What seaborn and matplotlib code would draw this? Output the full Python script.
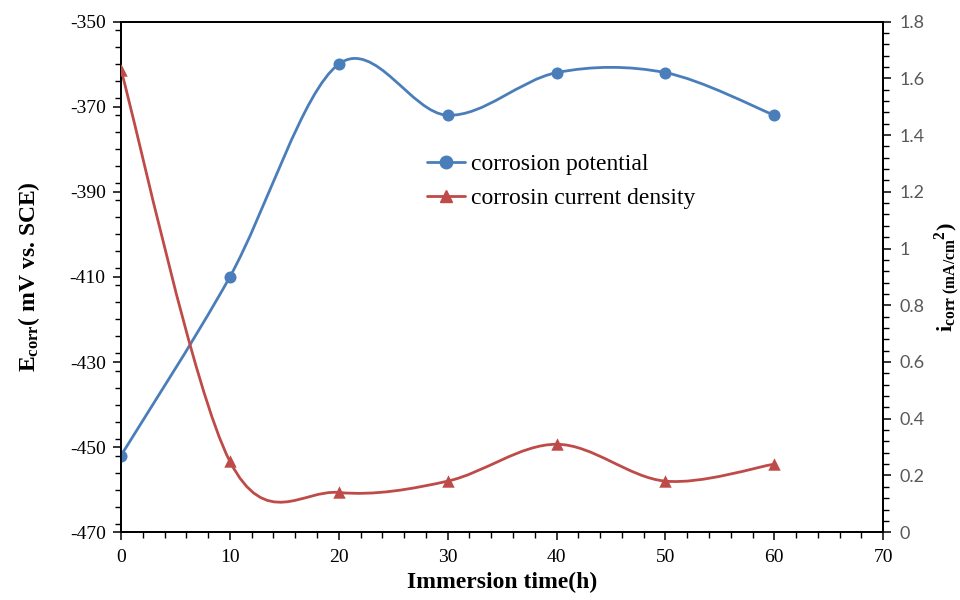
import numpy as np
import matplotlib
matplotlib.use("Agg")
import matplotlib.pyplot as plt
import seaborn as sns
from matplotlib.path import Path
from matplotlib.patches import PathPatch
from matplotlib.lines import Line2D
from matplotlib.ticker import MultipleLocator, FixedLocator, FuncFormatter

# ---- data ----
time_h = [0, 10, 20, 30, 40, 50, 60]
ecorr_mv = [-452, -410, -360, -372, -362, -362, -372]
icorr_ma = [1.63, 0.25, 0.14, 0.18, 0.31, 0.18, 0.24]
left_ticks = [-470, -450, -430, -410, -390, -370, -350]
series_labels = ["corrosion potential", "corrosin current density"]
x_label = "Immersion time(h)"
left_label = r"$\mathbf{E_{corr}}$( mV vs. SCE)"
right_label = r"$\mathbf{i}_{\mathbf{corr\ (mA/cm}}\mathbf{{}^{2})}$"

BLUE = "#4a7ebb"
RED = "#be4b48"

sns.set_theme(style="ticks")
plt.rcParams["font.family"] = ["Liberation Serif", "DejaVu Serif"]
plt.rcParams["axes.unicode_minus"] = False
plt.rcParams["text.color"] = "black"
plt.rcParams["axes.labelcolor"] = "black"
plt.rcParams["mathtext.fontset"] = "custom"
plt.rcParams["mathtext.rm"] = "Liberation Serif"
plt.rcParams["mathtext.it"] = "Liberation Serif:italic"
plt.rcParams["mathtext.bf"] = "Liberation Serif:bold"


def smooth_path(x, y):
    """Excel-like smoothed line (Catmull-Rom as cubic Bezier) through the points."""
    pts = np.column_stack([x, y]).astype(float)
    n = len(pts)
    verts = [pts[0]]
    codes = [Path.MOVETO]
    for i in range(n - 1):
        p0 = pts[i - 1] if i > 0 else pts[i]
        p1 = pts[i]
        p2 = pts[i + 1]
        p3 = pts[i + 2] if i + 2 < n else pts[i + 1]
        c1 = p1 + (p2 - p0) / 6.0
        c2 = p2 - (p3 - p1) / 6.0
        verts += [c1, c2, p2]
        codes += [Path.CURVE4] * 3
    return Path(verts, codes)


fig = plt.figure(figsize=(9.6, 6.0), dpi=100)
ax = fig.add_axes([0.126, 0.113, 0.794, 0.851])
ax2 = ax.twinx()

# left axis series
ax.add_patch(PathPatch(smooth_path(time_h, ecorr_mv), fill=False,
                       edgecolor=BLUE, lw=2.0, zorder=2))
sns.scatterplot(x=time_h, y=ecorr_mv, ax=ax, color=BLUE, marker="o", s=75,
                edgecolor=BLUE, linewidth=0, zorder=3, legend=False)

# right axis series
ax2.add_patch(PathPatch(smooth_path(time_h, icorr_ma), fill=False,
                        edgecolor=RED, lw=2.0, zorder=2))
sns.scatterplot(x=time_h, y=icorr_ma, ax=ax2, color=RED, marker="^", s=80,
                edgecolor=RED, linewidth=0, zorder=3, legend=False)

ax.set_xlim(0, 70)
ax.set_ylim(-470, -350)
ax2.set_ylim(0, 1.8)

ax.xaxis.set_major_locator(MultipleLocator(10))
ax.xaxis.set_minor_locator(MultipleLocator(2))
ax.yaxis.set_major_locator(FixedLocator(left_ticks))
ax.yaxis.set_minor_locator(MultipleLocator(4))
ax2.yaxis.set_major_locator(MultipleLocator(0.2))
ax2.yaxis.set_minor_locator(MultipleLocator(0.04))
ax2.yaxis.set_major_formatter(FuncFormatter(lambda v, p: f"{v:g}"))

for a in (ax, ax2):
    for s in a.spines.values():
        s.set_visible(True)
        s.set_color("black")
        s.set_linewidth(1.3)

ax.tick_params(axis="x", which="major", direction="out", length=6, width=1.1,
               labelsize=14, pad=6, color="black", labelcolor="black")
ax.tick_params(axis="y", which="major", direction="out", length=6, width=1.1,
               labelsize=14, pad=5, color="black", labelcolor="black")
ax.tick_params(axis="both", which="minor", direction="out", length=4, width=1.0,
               color="black")
ax2.tick_params(axis="y", which="major", direction="out", length=6, width=1.1,
                labelsize=13, pad=6, color="black", labelcolor="#595959")
ax2.tick_params(axis="y", which="minor", direction="out", length=4, width=1.0,
                color="black")
for lab in ax2.get_yticklabels():
    lab.set_family(["Lato", "DejaVu Sans"])

ax.set_xlabel(x_label, fontsize=17, fontweight="bold", labelpad=4)
ax.set_ylabel(left_label, fontsize=17, fontweight="bold", labelpad=20)
ax2.set_ylabel(right_label, fontsize=16, fontweight="bold", labelpad=5)

handles = [
    Line2D([0], [0], color=BLUE, lw=2.0, marker="o", markersize=9),
    Line2D([0], [0], color=RED, lw=2.0, marker="^", markersize=9),
]
fig.legend(handles, series_labels, loc="upper left",
           bbox_to_anchor=(0.428, 0.772), frameon=False, fontsize=17,
           handlelength=1.6, handletextpad=0.25, labelspacing=0.55,
           borderpad=0.2)

fig.savefig("out.png", dpi=100)
